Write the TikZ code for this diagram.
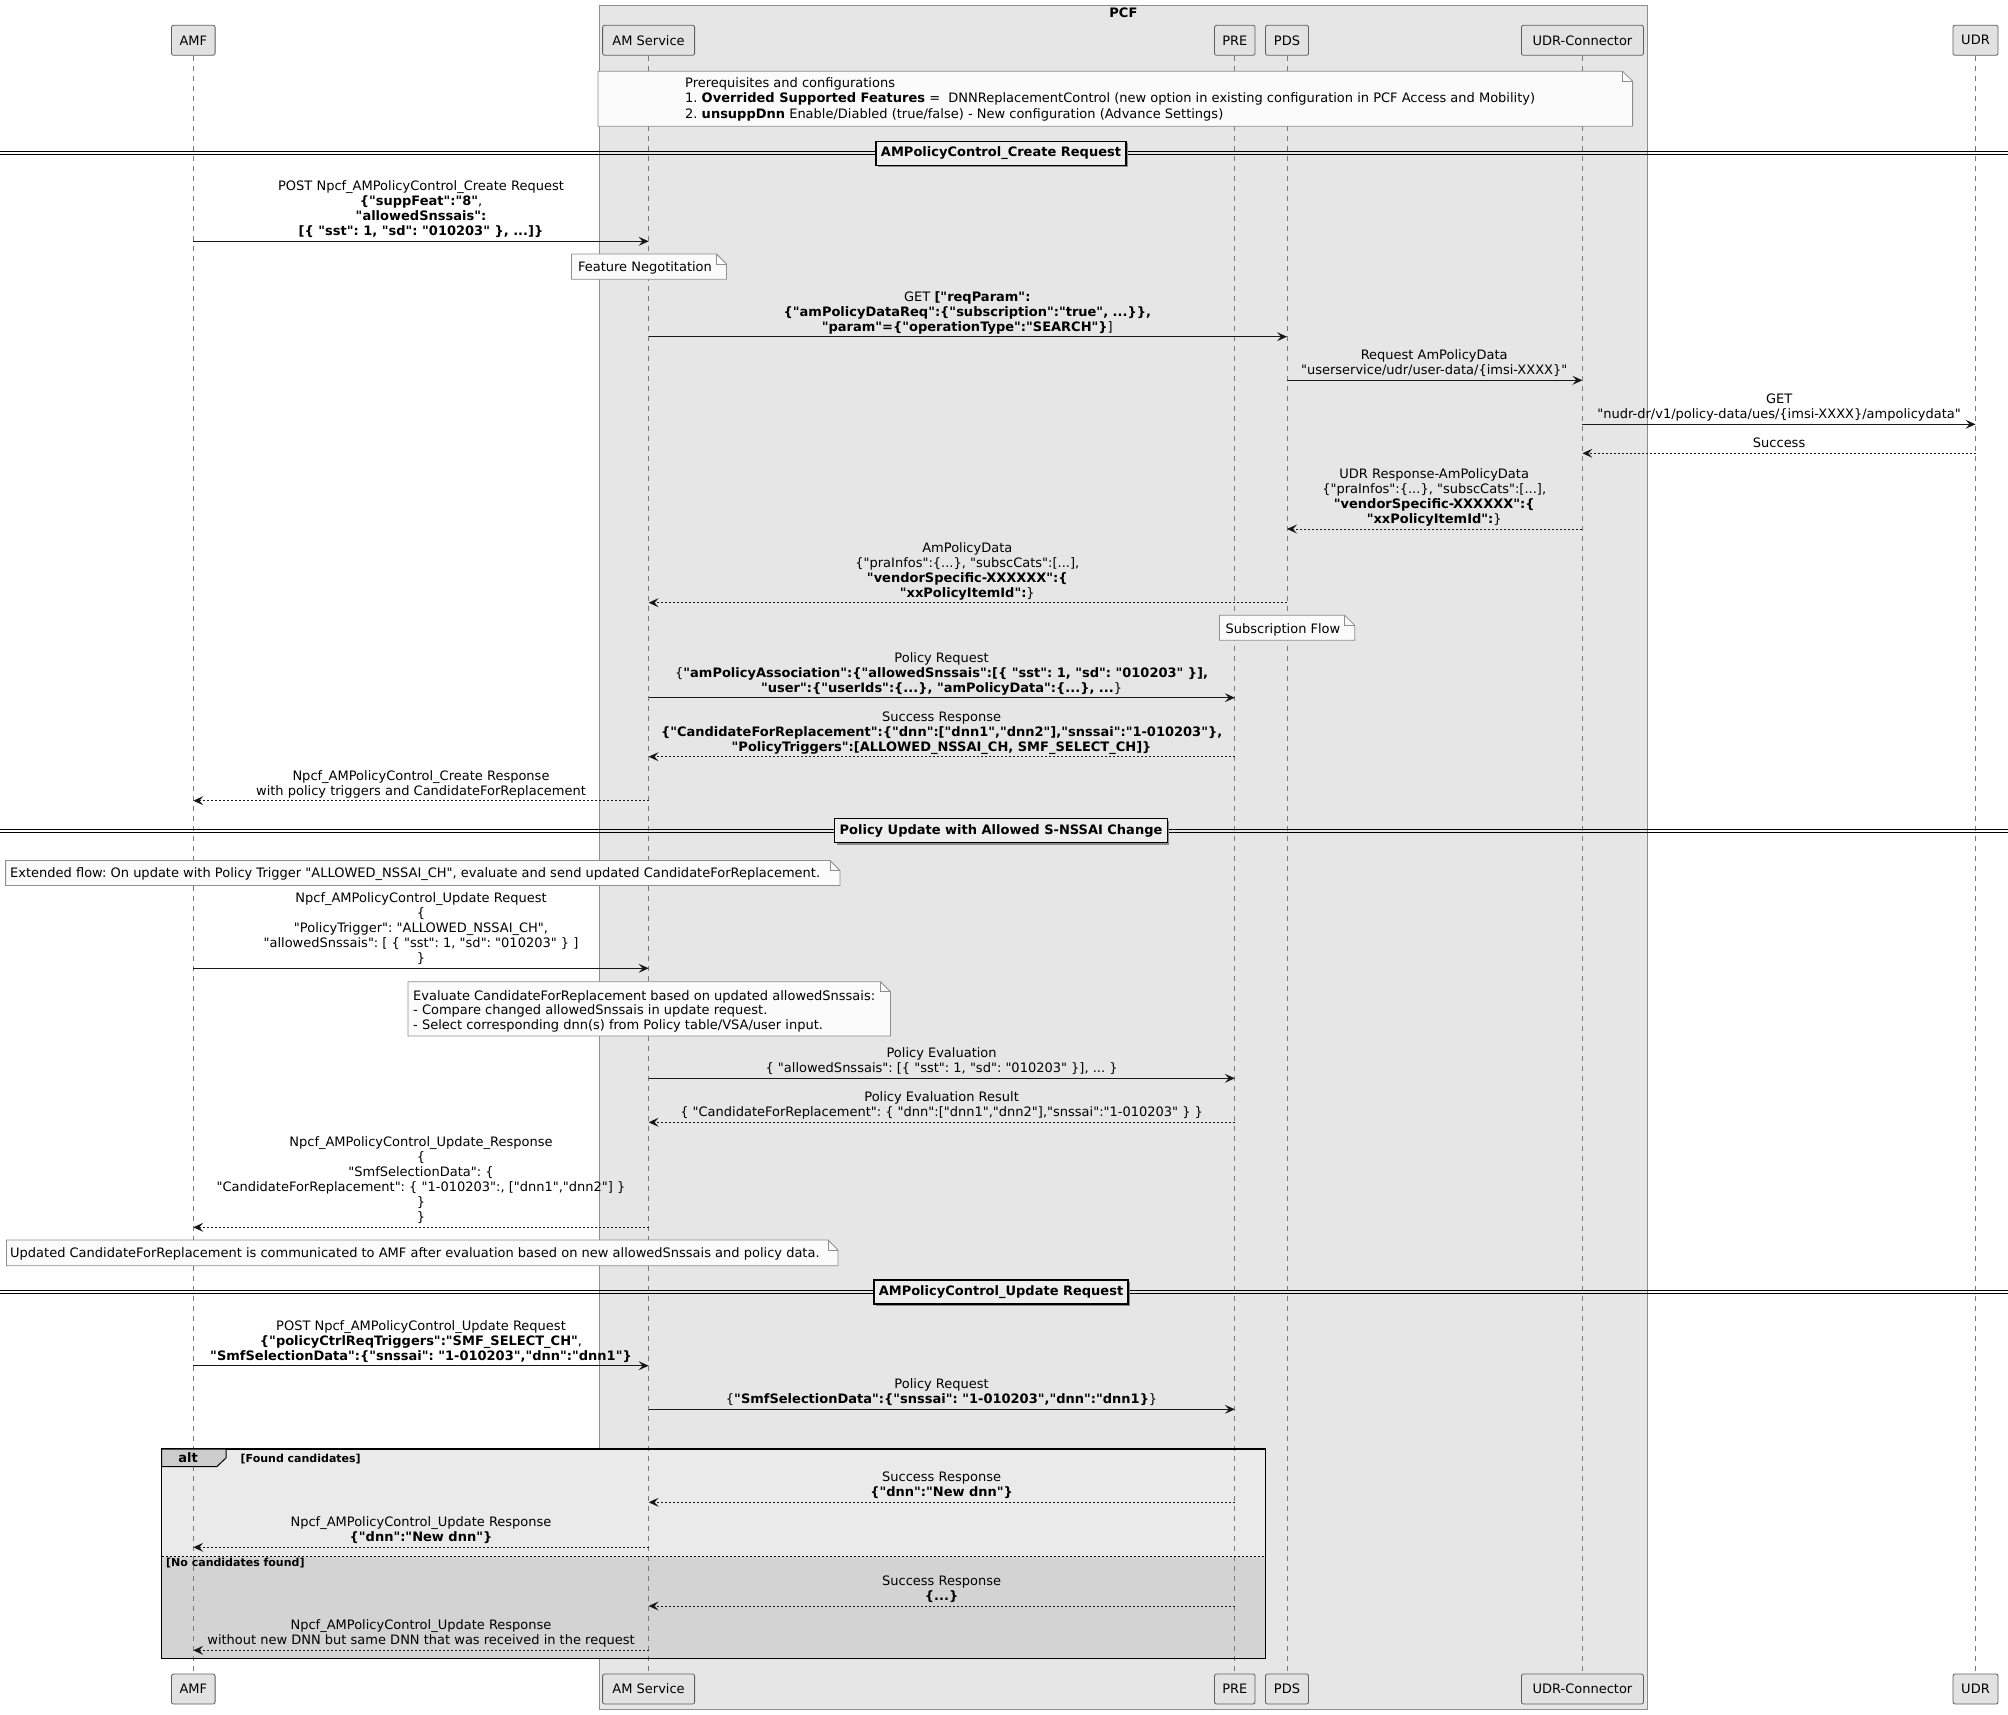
\documentclass[tikz,border=0pt]{standalone}
\usepackage{fontspec}
\setmainfont{DejaVu Sans}[Ligatures=TeXOff]
\usetikzlibrary{arrows.meta,shadows}
\pgfdeclarelayer{bg}
\pgfsetlayers{bg,main}
\frenchspacing
\definecolor{pcffill}{HTML}{E6E6E6}
\definecolor{pcfdraw}{HTML}{8E8E8E}
\definecolor{partfill}{HTML}{E2E2E2}
\definecolor{partdraw}{HTML}{5F5F5F}
\definecolor{lifecol}{HTML}{7A7A7A}
\definecolor{arrcol}{HTML}{181818}
\definecolor{notefill}{HTML}{FBFBFB}
\definecolor{notedraw}{HTML}{8E8E8E}
\definecolor{divfill}{HTML}{EEEEEE}
\definecolor{altfillA}{HTML}{EAEAEA}
\definecolor{altfillB}{HTML}{D3D3D3}
\definecolor{tabfill}{HTML}{CCCCCC}
\newcommand\notebox[5]{%
  \path[notesh] (#2,#3) -- (#4-10,#3) -- (#4,#3+10) -- (#4,#5) -- (#2,#5) -- cycle;
  \draw[draw=notedraw, line width=0.8pt] (#4-10,#3) -- (#4-10,#3+10) -- (#4,#3+10);
  \coordinate (#1) at (#2,#3);}
\newcommand\mlbl[4]{\node[lbl] (#1) at (#2,#3-2) {#4};}
\begin{document}
\begin{tikzpicture}[x=1pt,y=-1pt,
  font=\fontsize{13}{15}\selectfont,
  part/.style={draw=partdraw, fill=partfill, rounded corners=2pt, minimum height=30pt, inner sep=0pt, line width=0.8pt},
  life/.style={draw=lifecol, line width=0.8pt, dash pattern=on 5pt off 5pt},
  req/.style={draw=arrcol, line width=1pt, -{Stealth[length=10pt,width=9pt,inset=4pt]}},
  resp/.style={req, dash pattern=on 2pt off 2pt},
  lbl/.style={align=center, inner sep=0pt, anchor=south, execute at end node={\rule[-3.5pt]{0pt}{3.5pt}}},
  ntext/.style={anchor=base west, inner sep=0pt},
  ctext/.style={anchor=base, inner sep=0pt},
  notesh/.style={draw=notedraw, fill=notefill, line width=0.8pt},
  divbox/.style={draw=black, line width=1.5pt, fill=divfill, font=\fontsize{13}{15}\selectfont\bfseries, inner xsep=5pt, inner ysep=0pt, minimum height=24pt, text height=9.5pt, text depth=2.5pt, drop shadow={shadow xshift=2pt, shadow yshift=-2pt, fill=black!45, opacity=1}},
  divline/.style={draw=black, line width=1pt}
]
\useasboundingbox (0,0) rectangle (2008,1715);

% ---------- background: PCF box and alt fills
\begin{pgfonlayer}{bg}
\fill[white] (0,0) rectangle (2008,1715);
\draw[fill=pcffill, draw=pcfdraw, line width=1pt] (599.5,6) rectangle (1647.3,1709);
\fill[altfillA] (161.7,1449) rectangle (1265.6,1556.7);
\fill[altfillB] (161.7,1556.7) rectangle (1265.6,1658.5);
\end{pgfonlayer}
\node[font=\fontsize{13}{15}\selectfont\bfseries, ctext] (pcfL) at (1123.4,18) {PCF};

% ---------- participants
\node[part, minimum width=43.6pt] (amfT) at (193.3,40.3) {AMF};
\node[part, minimum width=92pt] (amsT) at (648.6,40.3) {AM Service};
\node[part, minimum width=40.5pt] (preT) at (1234.8,40.3) {PRE};
\node[part, minimum width=43pt] (pdsT) at (1287,40.3) {PDS};
\node[part, minimum width=122pt] (udrcT) at (1582.4,40.3) {UDR-Connector};
\node[part, minimum width=45pt] (udrT) at (1975.5,40.3) {UDR};
\node[part, minimum width=43.6pt] (amfB) at (193.3,1689) {AMF};
\node[part, minimum width=92pt] (amsB) at (648.6,1689) {AM Service};
\node[part, minimum width=40.5pt] (preB) at (1234.8,1689) {PRE};
\node[part, minimum width=43pt] (pdsB) at (1287,1689) {PDS};
\node[part, minimum width=122pt] (udrcB) at (1582.4,1689) {UDR-Connector};
\node[part, minimum width=45pt] (udrB) at (1975.5,1689) {UDR};

% ---------- lifelines
\draw[life] (amfT) -- (amfB);
\draw[life] (amsT) -- (amsB);
\draw[life] (preT) -- (preB);
\draw[life] (pdsT) -- (pdsB);
\draw[life] (udrcT) -- (udrcB);
\draw[life] (udrT) -- (udrB);

% ---------- prerequisites note
\notebox{nPre}{598}{71.3}{1632.6}{126.3}
\node[ntext] (pre1) at (685,87.5) {Prerequisites and configurations};
\node[ntext] (pre2) at (685,103) {1. \textbf{Overrided Supported Features} =\ \ DNNReplacementControl (new option in existing configuration in PCF Access and Mobility)};
\node[ntext] (pre3) at (685,118.5) {2. \textbf{unsuppDnn} Enable/Diabled (true/false) - New configuration (Advance Settings)};

% ---------- divider 1
\draw[divline] (0,152) -- (2008,152);
\draw[divline] (0,155) -- (2008,155);
\node[divbox] (div1) at (1001,153.5) {AMPolicyControl\_Create Request};

% ---------- messages
\mlbl{l1}{421}{241.3}{POST Npcf\_AMPolicyControl\_Create Request\\ \textbf{\{"suppFeat":"8"},\\ \textbf{"allowedSnssais":}\\ \textbf{[\{ "sst": 1, "sd": "010203" \}, ...]\}}}
\draw[req] (amfT |- 0,241.3) -- (amsT |- 0,241.3);

\notebox{nFeat}{571.5}{254}{726.5}{279.3}
\node[ctext] (featT) at (645,271.5) {Feature Negotitation};

\mlbl{l2}{967.3}{336.7}{GET \textbf{["reqParam":}\\ \textbf{\{"amPolicyDataReq":\{"subscription":"true", ...\}\},}\\ \textbf{"param"=\{"operationType":"SEARCH"\}}]}
\draw[req] (amsT |- 0,336.7) -- (pdsT |- 0,336.7);

\mlbl{l3}{1434.2}{380.3}{Request AmPolicyData\\ "userservice/udr/user-data/\{imsi-XXXX\}"}
\draw[req] (pdsT |- 0,380.3) -- (udrcT |- 0,380.3);

\mlbl{l4}{1779.1}{424.3}{GET\\ "nudr-dr/v1/policy-data/ues/\{imsi-XXXX\}/ampolicydata"}
\draw[req] (udrcT |- 0,424.3) -- (udrT |- 0,424.3);

\mlbl{l5}{1779.1}{453.3}{Success}
\draw[resp] (udrT |- 0,453.3) -- (udrcT |- 0,453.3);

\mlbl{l6}{1434.2}{529}{UDR Response-AmPolicyData\\ \{"praInfos":\{...\}, "subscCats":[...],\\ \textbf{"vendorSpecific-XXXXXX":\{}\\ \textbf{"xxPolicyItemId":}\}}
\draw[resp] (udrcT |- 0,529) -- (pdsT |- 0,529);

\mlbl{l7}{967.3}{602.7}{AmPolicyData\\ \{"praInfos":\{...\}, "subscCats":[...],\\ \textbf{"vendorSpecific-XXXXXX":\{}\\ \textbf{"xxPolicyItemId":}\}}
\draw[resp] (pdsT |- 0,602.7) -- (amsT |- 0,602.7);

\notebox{nSub}{1219.5}{615.3}{1354.7}{640.3}
\node[ctext] (subT) at (1283,633) {Subscription Flow};

\mlbl{l8}{941.6}{697.7}{Policy Request\\ \{\textbf{"amPolicyAssociation":\{"allowedSnssais":[\{ "sst": 1, "sd": "010203" \}],}\\ \textbf{"user":\{"userIds":\{...\}, "amPolicyData":\{...\}, ...}\}}
\draw[req] (amsT |- 0,697.7) -- (preT |- 0,697.7);

\mlbl{l9}{941.6}{756.7}{Success Response\\ \textbf{\{"CandidateForReplacement":\{"dnn":["dnn1","dnn2"],"snssai":"1-010203"\},}\\ \textbf{"PolicyTriggers":[ALLOWED\_NSSAI\_CH, SMF\_SELECT\_CH]\}}}
\draw[resp] (preT |- 0,756.7) -- (amsT |- 0,756.7);

\mlbl{l10}{421}{800.7}{Npcf\_AMPolicyControl\_Create Response\\ with policy triggers and CandidateForReplacement}
\draw[resp] (amsT |- 0,800.7) -- (amfT |- 0,800.7);

% ---------- divider 2
\draw[divline] (0,829) -- (2008,829);
\draw[divline] (0,832) -- (2008,832);
\node[divbox] (div2) at (1001,830.5) {Policy Update with Allowed S-NSSAI Change};

\notebox{nExt}{5.6}{860.5}{840}{885.5}
\node[ntext] (extT) at (10,877.5) {Extended flow: On update with Policy Trigger "ALLOWED\_NSSAI\_CH", evaluate and send updated CandidateForReplacement.};

\mlbl{l11}{421}{968.3}{Npcf\_AMPolicyControl\_Update Request\\ \{\\ "PolicyTrigger": "ALLOWED\_NSSAI\_CH",\\ "allowedSnssais": [ \{ "sst": 1, "sd": "010203" \} ]\\ \}}
\draw[req] (amfT |- 0,968.3) -- (amsT |- 0,968.3);

\notebox{nEval}{408}{981.7}{890.5}{1036}
\node[ntext] (ev1) at (413,1000.2) {Evaluate CandidateForReplacement based on updated allowedSnssais:};
\node[ntext] (ev2) at (413,1014.8) {- Compare changed allowedSnssais in update request.};
\node[ntext] (ev3) at (413,1029.5) {- Select corresponding dnn(s) from Policy table/VSA/user input.};

\mlbl{l12}{941.6}{1078.3}{Policy Evaluation\\ \{ "allowedSnssais": [\{ "sst": 1, "sd": "010203" \}], ... \}}
\draw[req] (amsT |- 0,1078.3) -- (preT |- 0,1078.3);

\mlbl{l13}{941.6}{1122.3}{Policy Evaluation Result\\ \{ "CandidateForReplacement": \{ "dnn":["dnn1","dnn2"],"snssai":"1-010203" \} \}}
\draw[resp] (preT |- 0,1122.3) -- (amsT |- 0,1122.3);

\mlbl{l14}{421}{1227.3}{Npcf\_AMPolicyControl\_Update\_Response\\ \{\\ "SmfSelectionData": \{\\ "CandidateForReplacement": \{ "1-010203":, ["dnn1","dnn2"] \}\\ \}\\ \}}
\draw[resp] (amsT |- 0,1227.3) -- (amfT |- 0,1227.3);

\notebox{nUpd}{6.4}{1240}{838}{1265.7}
\node[ntext] (updT) at (10,1257) {Updated CandidateForReplacement is communicated to AMF after evaluation based on new allowedSnssais and policy data.};

% ---------- divider 3
\draw[divline] (0,1290.5) -- (2008,1290.5);
\draw[divline] (0,1293.5) -- (2008,1293.5);
\node[divbox] (div3) at (1001,1292) {AMPolicyControl\_Update Request};

\mlbl{l15}{421}{1365.7}{POST Npcf\_AMPolicyControl\_Update Request\\ \textbf{\{"policyCtrlReqTriggers":"SMF\_SELECT\_CH"},\\ \textbf{"SmfSelectionData":\{"snssai": "1-010203","dnn":"dnn1"\}}}
\draw[req] (amfT |- 0,1365.7) -- (amsT |- 0,1365.7);

\mlbl{l16}{941.6}{1409.3}{Policy Request\\ \{\textbf{"SmfSelectionData":\{"snssai": "1-010203","dnn":"dnn1\}}\}}
\draw[req] (amsT |- 0,1409.3) -- (preT |- 0,1409.3);

% ---------- alt frame
\draw[black, line width=1.5pt] (161.7,1449) rectangle (1265.6,1658.5);
\draw[black, line width=0.8pt, dash pattern=on 2pt off 2pt] (161.7,1556.7) -- (1265.6,1556.7);
\draw[fill=tabfill, draw=black, line width=1pt] (161.7,1449) -- (226,1449) -- (226,1458) -- (217,1466.5) -- (161.7,1466.5) -- cycle;
\node[ctext, font=\fontsize{13}{15}\selectfont\bfseries] (altT) at (188,1462.5) {alt};
\node[ntext, font=\fontsize{11}{13}\selectfont\bfseries] (g1T) at (240.5,1462.5) {[Found candidates]};
\node[ntext, font=\fontsize{11}{13}\selectfont\bfseries] (g2T) at (166,1566.5) {[No candidates found]};

\mlbl{l17}{941.6}{1502.3}{Success Response\\ \textbf{\{"dnn":"New dnn"\}}}
\draw[resp] (preT |- 0,1502.3) -- (amsT |- 0,1502.3);

\mlbl{l18}{421}{1547.3}{Npcf\_AMPolicyControl\_Update Response\\ \textbf{\{"dnn":"New dnn"\}}}
\draw[resp] (amsT |- 0,1547.3) -- (amfT |- 0,1547.3);

\mlbl{l19}{941.6}{1606}{Success Response\\ \textbf{\{...\}}}
\draw[resp] (preT |- 0,1606) -- (amsT |- 0,1606);

\mlbl{l20}{421}{1650.3}{Npcf\_AMPolicyControl\_Update Response\\ without new DNN but same DNN that was received in the request}
\draw[resp] (amsT |- 0,1650.3) -- (amfT |- 0,1650.3);
\end{tikzpicture}
\end{document}
